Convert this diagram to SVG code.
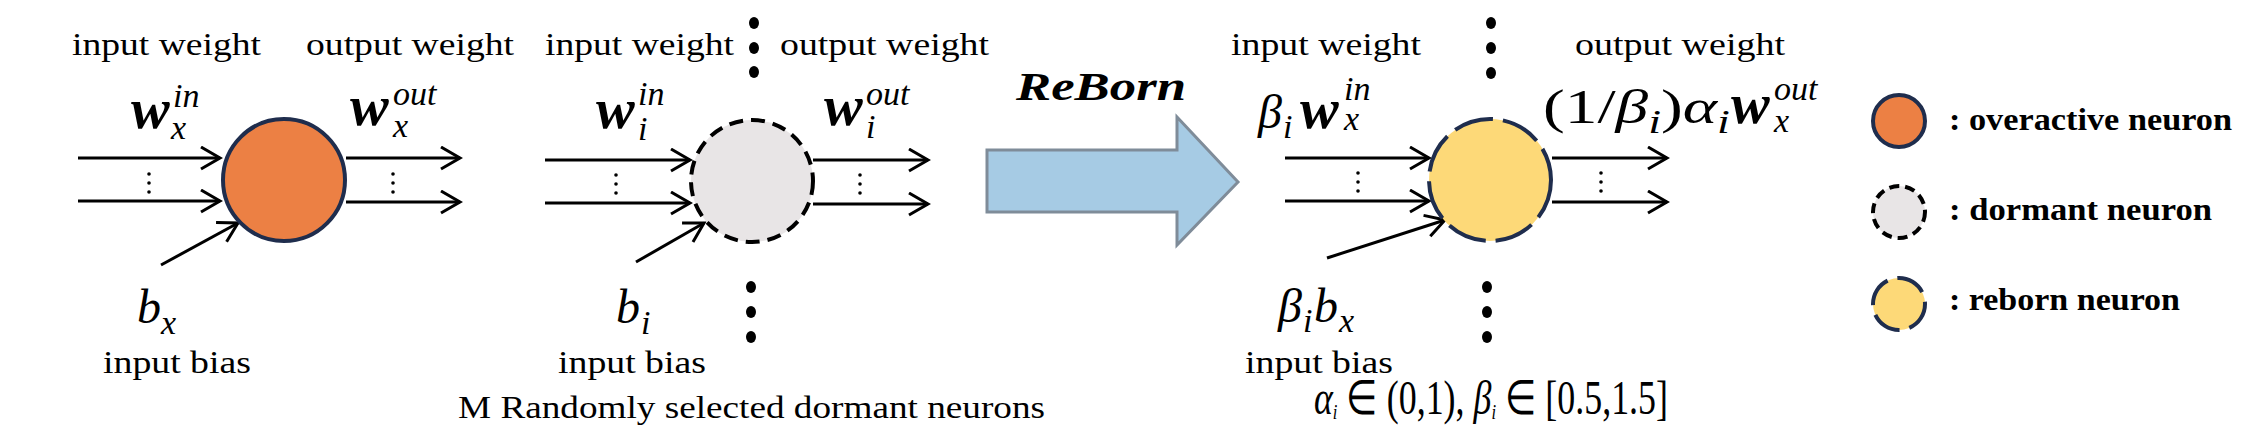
<svg xmlns="http://www.w3.org/2000/svg" width="2262" height="446" viewBox="0 0 2262 446">
<style>
.t{font-family:"Liberation Serif",serif;font-size:31px;fill:#000}
.m{font-family:"Liberation Serif",serif;font-style:italic;font-size:48px;fill:#000}
.w{font-family:"Liberation Serif",serif;font-style:italic;font-weight:bold;font-size:58px}
.s{font-size:34px;font-weight:normal;font-style:italic}
.lg{font-family:"Liberation Serif",serif;font-weight:bold;font-size:32px;fill:#000}
.ln{stroke:#000;stroke-width:3;fill:none;marker-end:url(#ah)}
</style>
<defs>
<marker id="ah" markerUnits="userSpaceOnUse" markerWidth="24" markerHeight="28" refX="21" refY="12" orient="auto">
<path d="M2,1 L21,12 L2,23" fill="none" stroke="#000" stroke-width="3"/>
</marker>
</defs>
<rect width="2262" height="446" fill="#fff"/>
<g id="connectors">
<line class="ln" x1="78" y1="158" x2="220" y2="158"/>
<line class="ln" x1="78" y1="201" x2="220" y2="201"/>
<line class="ln" x1="346" y1="158" x2="460" y2="158"/>
<line class="ln" x1="346" y1="202" x2="460" y2="202"/>
<line class="ln" x1="161" y1="265" x2="238" y2="223"/>
<line class="ln" x1="545" y1="160" x2="690" y2="160"/>
<line class="ln" x1="545" y1="203" x2="690" y2="203"/>
<line class="ln" x1="813" y1="160" x2="928" y2="160"/>
<line class="ln" x1="813" y1="204" x2="928" y2="204"/>
<line class="ln" x1="636" y1="262" x2="704" y2="223"/>
<line class="ln" x1="1285" y1="158" x2="1429" y2="158"/>
<line class="ln" x1="1285" y1="201" x2="1429" y2="201"/>
<line class="ln" x1="1552" y1="158" x2="1667" y2="158"/>
<line class="ln" x1="1552" y1="202" x2="1667" y2="202"/>
<line class="ln" x1="1327" y1="258" x2="1445" y2="220"/>
<polygon points="987,150 1177,150 1177,117 1238,182 1177,245 1177,212 987,212" fill="#a6cbe4" stroke="#7f8c99" stroke-width="3"/>
</g>
<g id="smalldots" fill="#000">
<circle cx="149" cy="174" r="1.8"/><circle cx="149" cy="183" r="1.8"/><circle cx="149" cy="192" r="1.8"/>
<circle cx="393" cy="174" r="1.8"/><circle cx="393" cy="183" r="1.8"/><circle cx="393" cy="192" r="1.8"/>
<circle cx="616" cy="175" r="1.8"/><circle cx="616" cy="184" r="1.8"/><circle cx="616" cy="193" r="1.8"/>
<circle cx="860" cy="175" r="1.8"/><circle cx="860" cy="184" r="1.8"/><circle cx="860" cy="193" r="1.8"/>
<circle cx="1358" cy="173" r="1.8"/><circle cx="1358" cy="182" r="1.8"/><circle cx="1358" cy="191" r="1.8"/>
<circle cx="1601" cy="173" r="1.8"/><circle cx="1601" cy="182" r="1.8"/><circle cx="1601" cy="191" r="1.8"/>
</g>
<g id="bigdots" fill="#000">
<ellipse cx="754" cy="23" rx="5" ry="6"/><ellipse cx="754" cy="48" rx="5" ry="6"/><ellipse cx="754" cy="72" rx="5" ry="6"/>
<ellipse cx="751" cy="287" rx="5" ry="6"/><ellipse cx="751" cy="312" rx="5" ry="6"/><ellipse cx="751" cy="337" rx="5" ry="6"/>
<ellipse cx="1491" cy="23" rx="5" ry="6"/><ellipse cx="1491" cy="48" rx="5" ry="6"/><ellipse cx="1491" cy="73" rx="5" ry="6"/>
<ellipse cx="1487" cy="287" rx="5" ry="6"/><ellipse cx="1487" cy="312" rx="5" ry="6"/><ellipse cx="1487" cy="337" rx="5" ry="6"/>
</g>
<g id="overactive">
<circle cx="284" cy="180" r="61" fill="#ec8044" stroke="#1f2d4d" stroke-width="4"/>
</g>
<g id="dormant">
<circle cx="752" cy="181" r="61" fill="#e8e5e6" stroke="#000" stroke-width="4" stroke-dasharray="14 8"/>
</g>
<g id="reborn">
<circle cx="1490" cy="180" r="61" fill="#fdd978" stroke="#1f2d4d" stroke-width="4" stroke-dasharray="40 10"/>
</g>
<g id="labels">
<text class="t" x="72" y="55" textLength="189" lengthAdjust="spacingAndGlyphs">input weight</text>
<text class="t" x="306" y="55" textLength="208" lengthAdjust="spacingAndGlyphs">output weight</text>
<text class="t" x="545" y="55" textLength="189" lengthAdjust="spacingAndGlyphs">input weight</text>
<text class="t" x="780" y="55" textLength="209" lengthAdjust="spacingAndGlyphs">output weight</text>
<text class="t" x="1231" y="55" textLength="190" lengthAdjust="spacingAndGlyphs">input weight</text>
<text class="t" x="1575" y="55" textLength="210" lengthAdjust="spacingAndGlyphs">output weight</text>
<text class="t" x="103" y="373" textLength="148" lengthAdjust="spacingAndGlyphs">input bias</text>
<text class="t" x="558" y="373" textLength="148" lengthAdjust="spacingAndGlyphs">input bias</text>
<text class="t" x="1245" y="373" textLength="148" lengthAdjust="spacingAndGlyphs">input bias</text>
<text class="t" x="458" y="418" textLength="587" lengthAdjust="spacingAndGlyphs">M Randomly selected dormant neurons</text>
<text class="m" x="1314" y="414" font-size="31" textLength="354" lengthAdjust="spacingAndGlyphs">α<tspan font-size="22" dy="5">i</tspan><tspan font-style="normal" dy="-5"> ∈ (0,1), </tspan>β<tspan font-size="22" dy="5">i</tspan><tspan font-style="normal" dy="-5"> ∈ [0.5,1.5]</tspan></text>
<text x="1016" y="100" font-family="Liberation Serif,serif" font-weight="bold" font-style="italic" font-size="40" textLength="170" lengthAdjust="spacingAndGlyphs">ReBorn</text>
<text class="w" x="131" y="128">w</text><text class="m s" x="173" y="107">in</text><text class="m s" x="171" y="139">x</text>
<text class="w" x="350" y="125">w</text><text class="m s" x="393" y="105">out</text><text class="m s" x="393" y="137">x</text>
<text class="w" x="596" y="128">w</text><text class="m s" x="638" y="105">in</text><text class="m s" x="638" y="140">i</text>
<text class="w" x="824" y="125">w</text><text class="m s" x="866" y="105">out</text><text class="m s" x="866" y="138">i</text>
<text class="m" x="137" y="323">b</text><text class="m s" x="161" y="334">x</text>
<text class="m" x="616" y="323">b</text><text class="m s" x="641" y="334">i</text>
<text class="m" x="1258" y="128">β</text><text class="m s" x="1283" y="138">i</text><text class="w" x="1300" y="128">w</text><text class="m s" x="1344" y="100">in</text><text class="m s" x="1344" y="130">x</text>
<text class="m" x="1543" y="123" font-size="52" textLength="187" lengthAdjust="spacingAndGlyphs"><tspan font-style="normal">(1/</tspan>β<tspan font-size="34" dy="10">i</tspan><tspan font-style="normal" dy="-10">)</tspan>α<tspan font-size="34" dy="10">i</tspan></text>
<text class="w" x="1731" y="123">w</text><text class="m s" x="1774" y="100">out</text><text class="m s" x="1774" y="132">x</text>
<text class="m" x="1278" y="322">β</text><text class="m s" x="1303" y="332">i</text><text class="m" x="1314" y="322">b</text><text class="m s" x="1339" y="332">x</text>
</g>
<g id="legend">
<circle cx="1899" cy="121" r="26" fill="#ec8044" stroke="#1f2d4d" stroke-width="4"/>
<circle cx="1899" cy="212" r="26" fill="#e8e5e6" stroke="#000" stroke-width="4" stroke-dasharray="10 6"/>
<circle cx="1899" cy="304" r="26" fill="#fdd978" stroke="#1f2d4d" stroke-width="4" stroke-dasharray="30 10"/>
<text class="lg" x="1949" y="130" textLength="283" lengthAdjust="spacingAndGlyphs">: overactive neuron</text>
<text class="lg" x="1949" y="220" textLength="263" lengthAdjust="spacingAndGlyphs">: dormant neuron</text>
<text class="lg" x="1949" y="310" textLength="231" lengthAdjust="spacingAndGlyphs">: reborn neuron</text>
</g>
</svg>
